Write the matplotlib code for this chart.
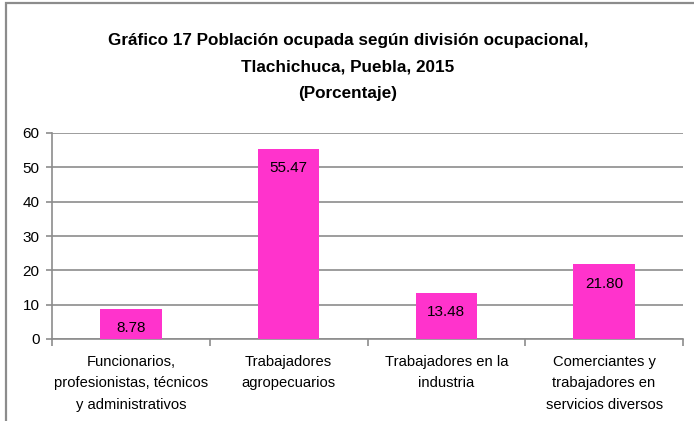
import matplotlib
matplotlib.use("Agg")
import matplotlib.pyplot as plt
from matplotlib.patches import Rectangle
from matplotlib import font_manager

names = {f.name for f in font_manager.fontManager.ttflist}
fam = [f for f in ["Liberation Sans Narrow", "Liberation Sans", "DejaVu Sans"] if f in names]
plt.rcParams['font.family'] = fam

categories = ["Funcionarios,\nprofesionistas, técnicos\ny administrativos",
              "Trabajadores\nagropecuarios",
              "Trabajadores en la\nindustria",
              "Comerciantes y\ntrabajadores en\nservicios diversos"]
values = [8.78, 55.47, 13.48, 21.80]
labels = ["8.78", "55.47", "13.48", "21.80"]
yticks = [0, 10, 20, 30, 40, 50, 60]
title = "Gráfico 17 Población ocupada según división ocupacional,\nTlachichuca, Puebla, 2015\n(Porcentaje)"

W, H = 694, 421
fig = plt.figure(figsize=(W/100, H/100), dpi=100)
fig.patch.set_facecolor("white")

# outer chart border
fig.add_artist(Rectangle((6/W, -0.2), 1.2, 1 - 3/H + 0.2, transform=fig.transFigure,
                         fill=False, edgecolor="#8c8c8c", linewidth=1.6))

ax = fig.add_axes([52/W, 1 - 339/H, (683-52)/W, (339-133)/H])
x = list(range(len(categories)))
ax.bar(x, values, width=0.39, color="#FF33CC", zorder=3)
ax.set_xlim(-0.5, len(categories) - 0.5)
ax.set_ylim(0, 60)
ax.set_yticks(yticks)
ax.set_yticklabels([str(t) for t in yticks], fontsize=11)
ax.yaxis.grid(True, color="#8c8c8c", linewidth=1.2, zorder=0)
ax.set_axisbelow(True)
for s in ["top", "right"]:
    ax.spines[s].set_visible(False)
for s in ["left", "bottom"]:
    ax.spines[s].set_color("#8c8c8c")
    ax.spines[s].set_linewidth(1.2)
ax.tick_params(axis="y", length=4, color="#8c8c8c", width=1.2, pad=5)
ax.set_xticks([i - 0.5 for i in range(len(categories) + 1)], minor=False)
ax.set_xticklabels([""] * (len(categories) + 1))
ax.tick_params(axis="x", length=5, color="#8c8c8c", width=1.2, direction="out")
for i, c in enumerate(categories):
    ax.text(i, -4.6, c, ha="center", va="top", fontsize=10.6, linespacing=1.68,
            transform=ax.transData)

for i, (v, l) in enumerate(zip(values, labels)):
    ax.annotate(l, (i, v), xytext=(0, -14), textcoords="offset points",
                ha="center", va="center", fontsize=11, zorder=4)

fig.text(348/W, 1 - 33/H, title, ha="center", va="top", fontsize=12.3,
         fontweight="bold", linespacing=1.95)

fig.savefig("out.png", dpi=100)
